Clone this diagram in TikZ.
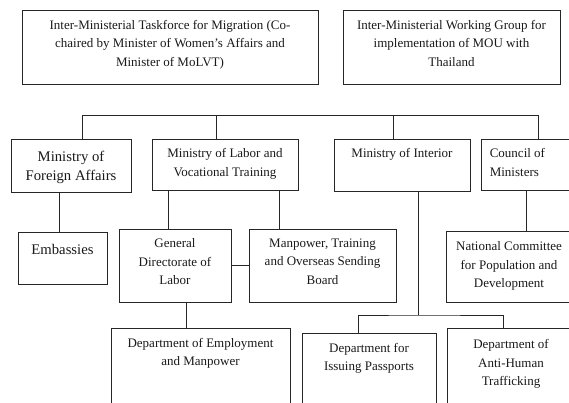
\documentclass[tikz,border=0pt]{standalone}
\usepackage{fontspec}
\setmainfont{Liberation Serif}
\tikzset{unit/.style={draw=black!85, line width=.8pt, inner sep=0pt},
  lbl/.style={align=center, inner sep=0pt, anchor=north, text=black!90,
    font=\fontsize{13}{18.3}\selectfont},
  biglbl/.style={lbl, font=\fontsize{14.7}{18.8}\selectfont},
  link/.style={draw=black!85, line width=.8pt}}

\begin{document}
\begin{tikzpicture}[x=1pt, y=-1pt]
  \useasboundingbox (0, 0) rectangle (569, 402);
  \clip (0, 0) rectangle (569, 402);

  \node[unit, minimum width=296pt, minimum height=74pt] at (170, 47) (tfm) {};
  \node[lbl] at ([yshift=-10.5pt]tfm.north) (tfmtxt) {Inter-Ministerial
    Taskforce for Migration (Co-\\chaired by Minister of Women's Affairs
    and\\Minister of MoLVT)};

  \node[unit, minimum width=217pt, minimum height=74pt] at (451.5, 47) (iwg) {};
  \node[lbl] at ([yshift=-10.5pt]iwg.north) (iwgtxt) {Inter-Ministerial
    Working Group for\\implementation of MOU with\\Thailand};

  \node[unit, minimum width=120pt, minimum height=53pt] at (71, 165.5) (mofa) {};
  \node[biglbl] at ([yshift=-12.5pt]mofa.north) (mofatxt) {Ministry of\\Foreign
    Affairs};

  \node[unit, minimum width=146pt, minimum height=51pt] at (225, 164.5) (molvt) {};
  \node[lbl] at ([yshift=-10pt]molvt.north) (molvttxt) {Ministry of Labor
    and\\Vocational Training};

  \node[unit, minimum width=136pt, minimum height=52pt] at (402, 165) (moi) {};
  \node[lbl] at ([yshift=-10pt]moi.north) (moitxt) {Ministry of Interior};

  \node[unit, minimum width=97pt, minimum height=51pt] at (529.5, 164.5) (com) {};
  \node[lbl, align=left, anchor=north west] at ([xshift=9pt, yshift=-10pt]com.north
    west) (comtxt) {Council of\\Ministers};

  \node[unit, minimum width=89pt, minimum height=52pt] at (62.5, 258) (emb) {};
  \node[biglbl] at ([yshift=-12.5pt]emb.north) (embtxt) {Embassies};

  \node[unit, minimum width=112pt, minimum height=73pt] at (175, 265.5) (gdl) {};
  \node[lbl] at ([yshift=-10pt]gdl.north) (gdltxt) {General\\Directorate
    of\\Labor};

  \node[unit, minimum width=147pt, minimum height=73pt] at (322.5, 265.5) (man) {};
  \node[lbl] at ([yshift=-10pt]man.north) (mantxt) {Manpower, Training\\and
    Overseas Sending\\Board};

  \node[unit, minimum width=126pt, minimum height=71pt] at (509, 266.5) (ncpd) {};
  \node[lbl] at ([yshift=-11pt]ncpd.north) (ncpdtxt) {National
    Committee\\for Population and\\Development};

  \node[unit, minimum width=179pt, minimum height=102pt] at (200.5, 379) (dem) {};
  \node[lbl] at ([yshift=-10.5pt]dem.north) (demtxt) {Department of
    Employment\\and Manpower};

  \node[unit, minimum width=134pt, minimum height=97pt] at (369, 381.5) (dip) {};
  \node[lbl] at ([yshift=-10.5pt]dip.north) (diptxt) {Department for\\Issuing
    Passports};

  \node[unit, minimum width=128pt, minimum height=102pt] at (511, 379) (daht) {};
  \node[lbl] at ([yshift=-12pt]daht.north) (dahttxt) {Department
    of\\Anti-Human\\Trafficking};

  \coordinate (b1) at (82, 115);
  \coordinate (b2) at (216, 115);
  \coordinate (b3) at (393, 115);
  \coordinate (b4) at (538, 115);
  \draw[link] (b1) -- (b4);
  \foreach \b/\n in {b1/mofa, b2/molvt, b3/moi, b4/com}
    \draw[link] (\b) -- (\b |- \n.north);

  \coordinate (xa) at (59, 0);
  \coordinate (xb) at (168, 0);
  \coordinate (xc) at (279, 0);
  \coordinate (xd) at (186, 0);
  \coordinate (xh) at (526, 0);
  \draw[link] (xa |- mofa.south) -- (xa |- emb.north);
  \draw[link] (xb |- molvt.south) -- (xb |- gdl.north);
  \draw[link] (xc |- molvt.south) -- (xc |- man.north);
  \draw[link] (xd |- gdl.south) -- (xd |- dem.north);
  \draw[link] (xh |- com.south) -- (xh |- ncpd.north);
  \draw[link] (gdl.east) -- (man.west);

  \coordinate (split) at (418, 315);
  \coordinate (xf) at (358, 0);
  \coordinate (xg) at (503, 0);
  \draw[link] (split |- moi.south) -- (split);
  \draw[link] (xf |- dip.north) |- (split) -| (xg |- daht.north);
\end{tikzpicture}
\end{document}
